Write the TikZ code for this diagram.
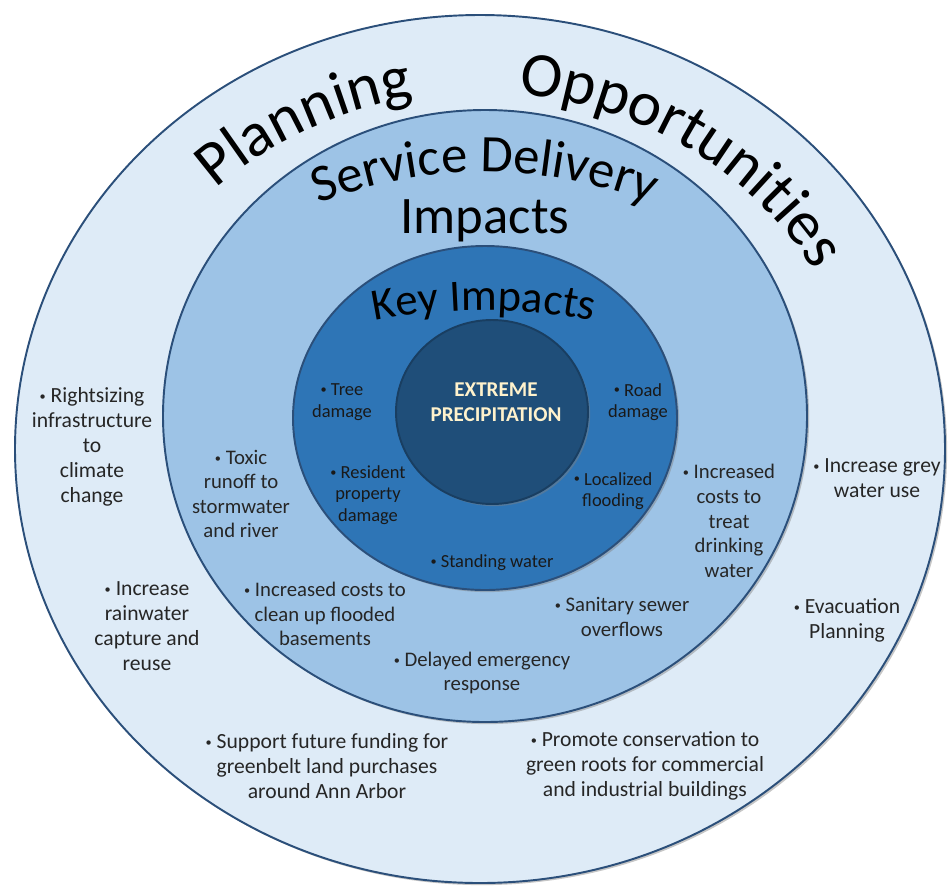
\documentclass[tikz,border=0pt]{standalone}
\usepackage{fontspec}
\setmainfont{Carlito}
\usetikzlibrary{decorations.text, shadows}

\definecolor{ringout}{HTML}{DEEBF7}
\definecolor{ringsd}{HTML}{9DC3E6}
\definecolor{ringkey}{HTML}{2E75B6}
\definecolor{ringcore}{HTML}{1F4E79}
\definecolor{ringline}{HTML}{2B4F7A}
\definecolor{txtgray}{HTML}{262626}
\definecolor{corefont}{HTML}{FFF2CC}

\newcommand\ringtitle{\fontsize{36}{36}\selectfont}
\newcommand\sdtitle{\fontsize{30}{30}\selectfont}
\newcommand\keytitle{\fontsize{25.5}{25.5}\selectfont}
\newcommand\bul{{\fontsize{7}{7}\selectfont\raisebox{0.35ex}{•}}\ }

\tikzset{
  ring/.style={draw=ringline, line width=1.1pt,
    drop shadow={shadow xshift=1.2pt, shadow yshift=-1.2pt, opacity=0.45}},
  outtext/.style={align=center, inner sep=0pt, text=txtgray,
    font=\fontsize{12.3}{14.2}\selectfont},
  sdtext/.style={outtext, font=\fontsize{11.8}{14}\selectfont},
  keytext/.style={outtext, text=black!90, font=\fontsize{10.5}{12.3}\selectfont},
  arctext/.style={decorate, decoration={text along path, text align=center,
    text color=black, text={#1}}},
}

\begin{document}
\begin{tikzpicture}[x=0.02cm, y=-0.02cm]
\useasboundingbox (0,0) rectangle (949,890);

% rings, outside in
\filldraw[ring, fill=ringout] (480,449) ellipse [x radius=465, y radius=434];
\filldraw[ring, fill=ringsd] (485,416) ellipse [x radius=322, y radius=306];
\filldraw[ring, fill=ringkey] (485,418) ellipse [x radius=192, y radius=172];
\filldraw[ring, draw=ringcore!80!black, fill=ringcore] (492,412) ellipse [x radius=96, y radius=92];

% ring titles
\path[arctext={|\ringtitle|Planning}] (480,448) ++(-150:385 and 356)
  arc[start angle=-150, end angle=-84, x radius=385, y radius=356];
\path[arctext={|\ringtitle|Opportunities}] (480,448) ++(-100:385 and 356)
  arc[start angle=-100, end angle=-13, x radius=385, y radius=356];
\path[arctext={|\sdtitle|Service Delivery}] (485,622) ++(-125:450)
  arc[start angle=-125, end angle=-55, radius=450];
\node[inner sep=0pt, anchor=base, font=\sdtitle] (sdimp) at (485,233) {Impacts};
\path[arctext={|\keytitle|Key Impacts}] (484,860) ++(-110:550)
  arc[start angle=-110, end angle=-70, radius=550];

% core
\node[align=center, inner sep=0pt, text=corefont,
  font=\fontsize{12}{14}\selectfont\bfseries] (core) at (496,402)
  {EXTREME\\PRECIPITATION};

% key impacts
\node[keytext] (tree) at (342,402) {\bul Tree\\damage};
\node[keytext] (road) at (638,402) {\bul Road\\damage};
\node[keytext] (resident) at (368,495) {\bul Resident\\property\\damage};
\node[keytext] (localflood) at (613,491) {\bul Localized\\flooding};
\node[keytext] (standing) at (492,563) {\bul Standing water};

% service delivery impacts
\node[sdtext] (toxic) at (241,494) {\bul Toxic\\runoff to\\stormwater\\and river};
\node[sdtext] (treat) at (729,521) {\bul Increased\\costs to\\treat\\drinking\\water};
\node[sdtext] (basement) at (325,614) {\bul Increased costs to\\clean up flooded\\basements};
\node[sdtext] (sewer) at (622,617) {\bul Sanitary sewer\\overflows};
\node[sdtext] (delay) at (482,673) {\bul Delayed emergency\\response};

% planning opportunities
\node[outtext] (rightsize) at (92,447) {\bul Rightsizing\\infrastructure\\to\\climate\\change};
\node[outtext] (rainwater) at (147,626) {\bul Increase\\rainwater\\capture and\\reuse};
\node[outtext] (greywater) at (877,478) {\bul Increase grey\\water use};
\node[outtext] (evac) at (847,620) {\bul Evacuation\\Planning};
\node[outtext] (greenbelt) at (327,766) {\bul Support future funding for\\greenbelt land purchases\\around Ann Arbor};
\node[outtext] (greenroof) at (645,766) {\bul Promote conservation to\\green roots for commercial\\and industrial buildings};

\end{tikzpicture}
\end{document}
